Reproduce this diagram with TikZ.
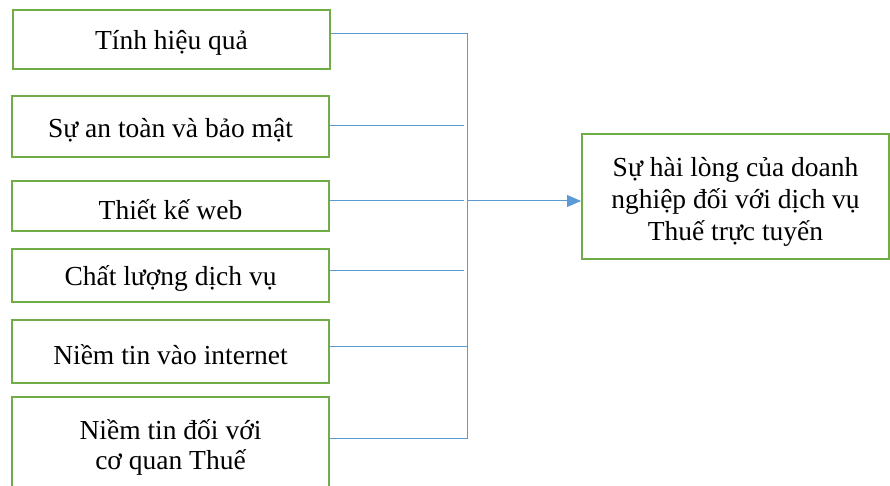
\documentclass[tikz,border=0pt]{standalone}
\usepackage{fontspec}
\setmainfont{Liberation Serif}
\usetikzlibrary{arrows.meta}
\definecolor{boxgreen}{HTML}{70AD47}
\definecolor{lineblue}{HTML}{5B9BD5}
\begin{document}
\begin{tikzpicture}[x=1pt,y=-1pt,
  factor/.style={draw=boxgreen,line width=2pt,minimum width=317pt,inner sep=0pt},
  txt/.style={font=\fontsize{27.5}{31}\selectfont,align=center,inner sep=0pt,yshift=-3.5pt},
  conn/.style={draw=lineblue,line width=1pt}]
\useasboundingbox (0,0) rectangle (890,486);
\node[factor,minimum height=59pt] (b1) at (171.5,39.5) {};
\node[factor,minimum height=61pt] (b2) at (170.5,126.5) {};
\node[factor,minimum height=50pt] (b3) at (170.5,206) {};
\node[factor,minimum height=53pt] (b4) at (170.5,275.5) {};
\node[factor,minimum height=63pt] (b5) at (170.5,351.5) {};
\node[factor,minimum height=100pt] (b6) at (170.5,447) {};
\node[factor,minimum width=307pt,minimum height=125pt] (out) at (735.5,196.5) {};
\node[txt] (t1) at (b1.center) {Tính hiệu quả};
\node[txt] (t2) at (b2.center) {Sự an toàn và bảo mật};
\node[txt] (t3) at (b3.center) {Thiết kế web};
\node[txt] (t4) at (b4.center) {Chất lượng dịch vụ};
\node[txt] (t5) at (b5.center) {Niềm tin vào internet};
\node[txt,font=\fontsize{27.5}{30}\selectfont,yshift=3.5pt] (t6) at (b6.center) {Niềm tin đối với\\cơ quan Thuế};
\node[txt,font=\fontsize{27.5}{32}\selectfont,yshift=-1.5pt] (tout) at (out.center)
  {Sự hài lòng của doanh\\nghiệp đối với dịch vụ\\Thuế trực tuyến};
\coordinate (bustop) at (467,34);
\coordinate (busbot) at (467,438);
\coordinate (busmid) at (467,201);
\draw[conn] ([yshift=5.5pt]b1.east) -- (bustop) -- (busbot) -- ([yshift=9pt]b6.east);
\draw[conn] ([yshift=0.5pt]b2.east) -- ++(134,0);
\draw[conn] ([yshift=5pt]b3.east) -- ++(134,0);
\draw[conn] ([yshift=5.5pt]b4.east) -- ++(134,0);
\draw[conn] ([yshift=5.5pt]b5.east) -- ([yshift=5.5pt]b5.east -| bustop);
\draw[conn,-{Triangle[length=14pt,width=12pt]}] (busmid) -- (busmid -| out.west);
\end{tikzpicture}
\end{document}
